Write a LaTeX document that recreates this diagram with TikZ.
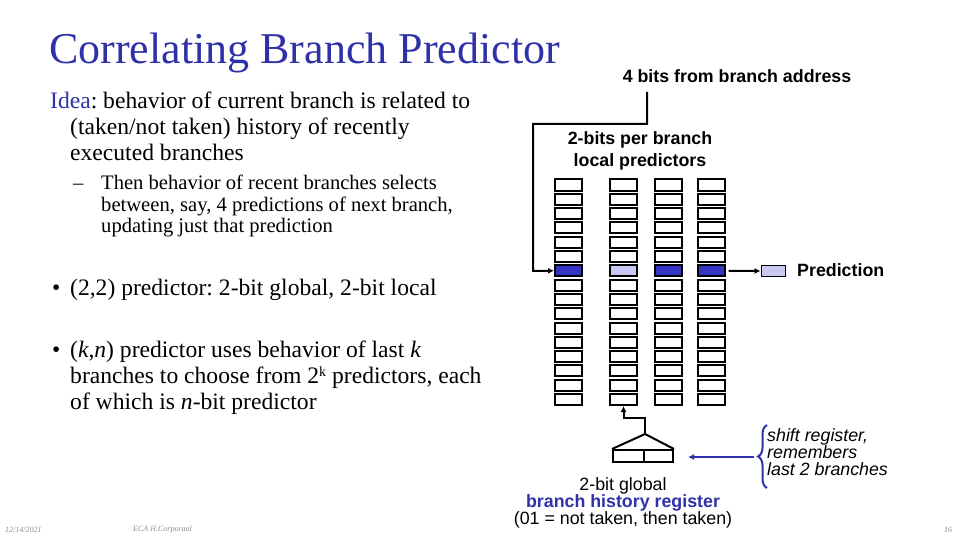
\documentclass[tikz,border=0pt]{standalone}
\usepackage{fontspec}
\setmainfont{Liberation Serif}
\setsansfont{Liberation Sans}
\usetikzlibrary{decorations.pathreplacing,arrows.meta}

\definecolor{slideblue}{HTML}{2E31A8}
\definecolor{cellblue}{HTML}{3434C4}
\definecolor{celllight}{HTML}{C8C8F2}
\definecolor{footgray}{HTML}{8C8C8C}

\tikzset{
  cell/.style={draw,line width=2pt,minimum width=27pt,minimum height=11pt,inner sep=0pt},
  label/.style={font=\sffamily\bfseries\fontsize{17.8}{22}\selectfont,inner sep=0pt},
  para/.style={align=left,inner sep=0pt,anchor=north west},
  wire/.style={line width=2pt},
  foot/.style={font=\itshape\fontsize{8}{9}\selectfont,text=footgray,inner sep=0pt}
}

\begin{document}
\frenchspacing
\begin{tikzpicture}[x=1pt,y=-1pt]

  \useasboundingbox (0,0) rectangle (960,540);

  % titel
  \node[inner sep=0pt,anchor=west,text=slideblue,font=\fontsize{44}{48}\selectfont]
    (title) at (49,53) {Correlating Branch Predictor};

  % tekst links
  \node[para,font=\fontsize{23.6}{26}\selectfont] (idea) at (50,92)
    {\textcolor{slideblue}{Idea}: behavior of current branch is related to\\
     \hspace*{20pt}(taken/not taken) history of recently\\
     \hspace*{20pt}executed branches};
  \node[para,font=\fontsize{20.6}{21.5}\selectfont] (sub) at (73,175)
    {\makebox[28pt][l]{--}Then behavior of recent branches selects\\
     \hspace*{28pt}between, say, 4 predictions of next branch,\\
     \hspace*{28pt}updating just that prediction};
  \node[para,font=\fontsize{23.6}{26}\selectfont] (twotwo) at (52,279)
    {\makebox[18pt][l]{\textbullet}(2,2) predictor: 2-bit global, 2-bit local};
  \node[para,font=\fontsize{23.6}{26}\selectfont] (kn) at (52,341)
    {\makebox[18pt][l]{\textbullet}(\textit{k},\textit{n}) predictor uses behavior of last \textit{k}\\
     \hspace*{18pt}branches to choose from 2{\fontsize{14}{14}\selectfont\raisebox{7pt}{k}} predictors, each\\
     \hspace*{18pt}of which is \textit{n}-bit predictor};

  % tabel met lokale voorspellers
  \foreach \c/\x in {1/568.5,2/623.5,3/668.5,4/711}
    \foreach \r in {0,...,15}
      \node[cell] (c\c r\r) at (\x,185+14.3*\r) {};
  \node[cell,fill=cellblue]  at (c1r6) {};
  \node[cell,fill=celllight] at (c2r6) {};
  \node[cell,fill=cellblue]  at (c3r6) {};
  \node[cell,fill=cellblue]  at (c4r6) {};

  % labels
  \node[label] (addr) at (737,76) {4 bits from branch address};
  \node[label,align=center] (local) at (640,151) {2-bits per branch\\ local predictors};
  \node[cell,line width=1pt,minimum width=24pt,minimum height=11pt,fill=celllight]
    (pred) at (773,271) {};
  \node[label,anchor=west] (predtxt) at (797,270) {Prediction};

  % adres naar tabel
  \coordinate (addrtop) at (647,92);
  \draw[wire,-{Latex[length=6pt,width=6pt]}] (addrtop) -- (647,124) -- (533,124)
    -- (533,270.8) -- (c1r6.west);
  \draw[wire,-{Latex[length=6pt,width=6pt]}] (c4r6.east) ++(3,0) -- (pred.west);

  % globale geschiedenis
  \node[draw,line width=2pt,minimum width=60pt,minimum height=12pt,inner sep=0pt]
    (bhr) at (643,456) {};
  \draw[line width=2pt] (bhr.north) ++(1,0) -- ++(0,12);
  \coordinate (apex) at (645,434);
  \draw[wire,line join=round] (bhr.north west) -- (apex) -- (bhr.north east);
  \draw[wire,-{Latex[length=6pt,width=6pt]}] (apex) -- (645,418) -- (623.5,418) -- (c2r15.south);

  % schuifregister
  \draw[slideblue,line width=2pt,decorate,
    decoration={brace,amplitude=9pt}] (767,488) -- (767,425);
  \coordinate (bracetip) at (754,457);
  \coordinate (bhrright) at (688,457);
  \draw[slideblue,wire,-{Latex[length=6pt,width=6pt]}] (bracetip) -- (bhrright);
  \node[para,anchor=west,font=\sffamily\itshape\fontsize{17.8}{17}\selectfont] (shift) at (767,452)
    {shift register,\\ remembers\\ last 2 branches};

  \node[inner sep=0pt,align=center,font=\sffamily\fontsize{17.8}{17}\selectfont] (bhrtxt) at (623,503)
    {2-bit global\\ \textcolor{slideblue}{\bfseries branch history register}\\ (01 = not taken, then taken)};

  % voettekst
  \node[foot,anchor=west] (date) at (5,530) {12/14/2021};
  \node[foot,anchor=west] (auth) at (133,530) {ECA  H.Corporaal};
  \node[foot,anchor=west] (page) at (944,530) {16};

\end{tikzpicture}
\end{document}
